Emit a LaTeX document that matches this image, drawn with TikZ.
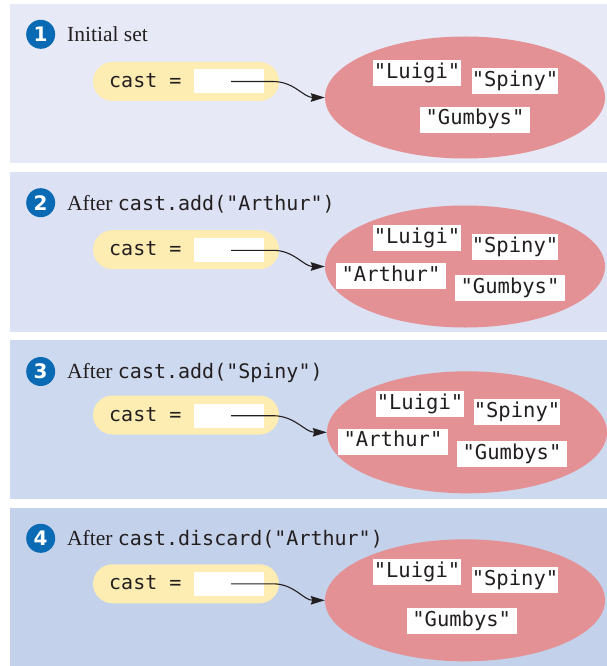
\documentclass[tikz,border=0pt]{standalone}
\usepackage{fontspec}
\setmainfont{Liberation Serif}
\setmonofont{DejaVu Sans Mono}
\newfontfamily\digitfont{DejaVu Sans}
\usetikzlibrary{arrows.meta,shapes.geometric}
\definecolor{bgA}{HTML}{E7EAF6}
\definecolor{bgB}{HTML}{DCE1F3}
\definecolor{bgC}{HTML}{CDD9EE}
\definecolor{bgD}{HTML}{C3D1EA}
\definecolor{setred}{HTML}{E39194}
\definecolor{pillyellow}{HTML}{FDEDB3}
\definecolor{stepblue}{HTML}{0A6AB4}
\definecolor{ink}{HTML}{231F20}
\newcommand{\codefont}{\ttfamily\fontsize{20}{22}\selectfont}
\begin{document}
\begin{tikzpicture}[x=1pt,y=-1pt,
  stepcircle/.style={circle, fill=stepblue, text=white, minimum size=29pt, inner sep=0pt,
    font=\digitfont\bfseries\fontsize{20}{20}\selectfont},
  titletext/.style={anchor=base west, inner sep=0pt, text=ink, font=\fontsize{21.5}{24}\selectfont},
  pill/.style={fill=pillyellow, rounded corners=19.5pt, minimum width=186pt, minimum height=39pt, inner sep=0pt},
  varname/.style={anchor=base west, inner sep=0pt, text=ink, font=\ttfamily\fontsize{20}{22}\selectfont},
  ptrbox/.style={fill=white, minimum width=70pt, minimum height=24pt, inner sep=0pt},
  setblob/.style={ellipse, fill=setred, minimum width=280pt, minimum height=122pt, inner sep=0pt},
  elem/.style={fill=white, text=ink, minimum height=26pt, inner sep=0pt, text height=14.5pt, text depth=4pt,
    font=\ttfamily\fontsize{20.5}{22}\selectfont},
  ref/.style={draw=ink, line width=1.1pt, -{Stealth[length=14pt,width=8.5pt,inset=1.5pt]}},
]
\useasboundingbox (0,0) rectangle (607,666);

% ---------- Panel 1
\fill[bgA] (10,4) rectangle (607,163);
\node[stepcircle] (n1) at (40.7,34.3) {1};
\node[titletext] (t1) at (67,41.5) {Initial set};
\node[pill] (p1) at (186,81.5) {};
\node[varname] (v1) at (109,87.5) {cast =};
\node[ptrbox] (r1) at (229,81.5) {};
\node[setblob] (s1) at (465,97.5) {};
\node[elem, minimum width=88pt] (e1a) at (417,73.3) {"Luigi"};
\node[elem, minimum width=86pt] (e1b) at (515,80.8) {"Spiny"};
\node[elem, minimum width=110pt] (e1c) at (475,119.7) {"Gumbys"};
\draw[ref] ([xshift=2pt]r1.center) -- ++(42,0) to[out=0,in=180] (s1.west);

% ---------- Panel 2
\fill[bgB] (10,172) rectangle (607,332);
\node[stepcircle] (n2) at (40.7,202.7) {2};
\node[titletext] (t2) at (67,210) {After {\codefont cast.add("Arthur")}};
\node[pill] (p2) at (186,249.7) {};
\node[varname] (v2) at (109,255.7) {cast =};
\node[ptrbox] (r2) at (229,250.3) {};
\node[setblob] (s2) at (465,266.5) {};
\node[elem, minimum width=88pt] (e2a) at (417,238.3) {"Luigi"};
\node[elem, minimum width=86pt] (e2b) at (515,247) {"Spiny"};
\node[elem, minimum width=110pt] (e2c) at (391,276.3) {"Arthur"};
\node[elem, minimum width=110pt] (e2d) at (510,288.3) {"Gumbys"};
\draw[ref] ([xshift=2pt]r2.center) -- ++(42,0) to[out=0,in=180] (s2.west);

% ---------- Panel 3
\fill[bgC] (10,340) rectangle (607,499);
\node[stepcircle] (n3) at (40.7,371.5) {3};
\node[titletext] (t3) at (67,378.5) {After {\codefont cast.add("Spiny")}};
\node[pill] (p3) at (186,415) {};
\node[varname] (v3) at (109,421) {cast =};
\node[ptrbox] (r3) at (229,415.7) {};
\node[setblob] (s3) at (467,432.3) {};
\node[elem, minimum width=88pt] (e3a) at (420,404.3) {"Luigi"};
\node[elem, minimum width=86pt] (e3b) at (517,411.8) {"Spiny"};
\node[elem, minimum width=110pt] (e3c) at (393,441.5) {"Arthur"};
\node[elem, minimum width=110pt] (e3d) at (512,454.3) {"Gumbys"};
\draw[ref] ([xshift=2pt]r3.center) -- ++(42,0) to[out=0,in=180] (s3.west);

% ---------- Panel 4
\fill[bgD] (10,508) rectangle (607,666);
\node[stepcircle] (n4) at (40.7,538.3) {4};
\node[titletext] (t4) at (67,545) {After {\codefont cast.discard("Arthur")}};
\node[pill] (p4) at (186,583.8) {};
\node[varname] (v4) at (109,589.8) {cast =};
\node[ptrbox] (r4) at (229,583.8) {};
\node[setblob] (s4) at (465,600.3) {};
\node[elem, minimum width=88pt] (e4a) at (417,572.3) {"Luigi"};
\node[elem, minimum width=86pt] (e4b) at (515,580) {"Spiny"};
\node[elem, minimum width=110pt] (e4c) at (461.7,621.3) {"Gumbys"};
\draw[ref] ([xshift=2pt]r4.center) -- ++(42,0) to[out=0,in=180] (s4.west);
\end{tikzpicture}
\end{document}
